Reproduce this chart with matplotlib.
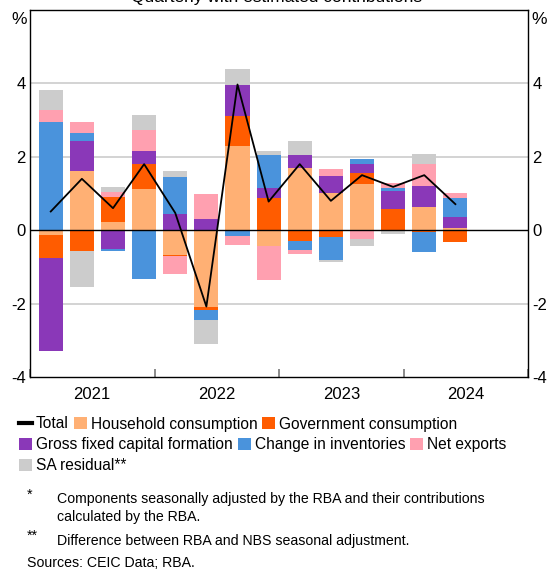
import matplotlib
matplotlib.use('Agg')
import matplotlib.pyplot as plt
from matplotlib.patches import Patch
from matplotlib.lines import Line2D
import numpy as np

plt.rcParams['font.family'] = ['Liberation Sans', 'DejaVu Sans']

# quarterly data, 2021Q1 - 2024Q2 (ppt contributions)
quarters = ['2021Q1', '2021Q2', '2021Q3', '2021Q4',
            '2022Q1', '2022Q2', '2022Q3', '2022Q4',
            '2023Q1', '2023Q2', '2023Q3', '2023Q4',
            '2024Q1', '2024Q2']
household = [-0.12, 1.62, 0.23, 1.11, -0.68, -2.10, 2.29, -0.42, 1.69, 1.00, 1.27, 0.00, 0.64, 0.07]
government = [-0.63, -0.58, 0.68, 0.70, -0.03, -0.07, 0.83, 0.89, -0.29, -0.18, 0.29, 0.58, -0.05, -0.33]
gfcf = [-2.54, 0.81, -0.50, 0.35, 0.45, 0.31, 0.83, 0.26, 0.36, 0.48, 0.25, 0.49, 0.57, 0.30]
inventories = [2.94, 0.22, -0.08, -1.33, 1.00, -0.29, -0.17, 0.90, -0.24, -0.64, 0.13, 0.08, -0.55, 0.51]
net_exports = [0.33, 0.29, 0.13, 0.57, -0.49, 0.68, -0.24, -0.94, -0.11, 0.19, -0.25, 0.13, 0.59, 0.13]
sa_residual = [0.55, -0.97, 0.14, 0.40, 0.16, -0.65, 0.43, 0.11, 0.38, -0.05, -0.19, -0.10, 0.28, 0.00]
total = [0.51, 1.40, 0.60, 1.80, 0.47, -2.08, 3.97, 0.78, 1.80, 0.80, 1.50, 1.18, 1.50, 0.71]

components = [
    ('Household consumption', household, '#FFB074'),
    ('Government consumption', government, '#FF5C00'),
    ('Gross fixed capital formation', gfcf, '#8A38B8'),
    ('Change in inventories', inventories, '#4A93DC'),
    ('Net exports', net_exports, '#FFA0B0'),
    ('SA residual**', sa_residual, '#CCCCCC'),
]

# bar placed at start of last month of each quarter
x = np.array([int(q[:4]) + (3 * int(q[5]) - 1) / 12 for q in quarters])

fig = plt.figure(figsize=(5.47, 5.70), dpi=100)
ax = fig.add_axes([30 / 547, 1 - 377 / 570, 498 / 547, 367 / 570])

pos_base = np.zeros(len(x))
neg_base = np.zeros(len(x))
for label, vals, color in components:
    v = np.array(vals)
    bottom = np.where(v >= 0, pos_base, neg_base)
    ax.bar(x, v, width=0.193, bottom=bottom, color=color, zorder=2, linewidth=0)
    pos_base += np.where(v >= 0, v, 0)
    neg_base += np.where(v < 0, v, 0)

ax.plot(x, total, color='black', lw=1.3, zorder=4)
ax.axhline(0, color='black', lw=1, zorder=3)
for yv in [-2, 2, 4]:
    ax.axhline(yv, color='#D0D0D0', lw=1.3, zorder=1)

ax.set_xlim(2021, 2025)
ax.set_ylim(-4, 6)
ax.set_yticks([-4, -2, 0, 2, 4])
ax.set_yticklabels(['-4', '-2', '0', '2', '4'])
ax.tick_params(axis='y', left=False, right=False, length=0, labelleft=True, labelright=True,
               labelsize=12, pad=3)

ax.set_xticks([2021, 2022, 2023, 2024, 2025])
ax.set_xticklabels([])
ax.set_xticks([2021.5, 2022.5, 2023.5, 2024.5], minor=True)
ax.set_xticklabels(['2021', '2022', '2023', '2024'], minor=True)
ax.tick_params(axis='x', which='major', direction='in', length=6, color='#777777', width=1.2)
ax.tick_params(axis='x', which='minor', length=0, labelsize=12, pad=7)

for s in ax.spines.values():
    s.set_linewidth(1)
    s.set_color('black')

fig.text(11 / 547, 1 - 19 / 570, '%', fontsize=12.5, va='center', ha='left')
fig.text(531 / 547, 1 - 19 / 570, '%', fontsize=12.5, va='center', ha='left')
fig.text(280 / 547, 1 - 2 / 570, 'Quarterly with estimated contributions*', fontsize=12.5,
         ha='center', va='baseline')

# legend rows
patches = {lab: Patch(facecolor=c, edgecolor='none') for lab, _, c in components}
total_h = Line2D([], [], color='black', lw=3)
rows = [
    ([total_h, patches['Household consumption'], patches['Government consumption']],
     ['Total', 'Household consumption', 'Government consumption'], 424),
    ([patches['Gross fixed capital formation'], patches['Change in inventories'], patches['Net exports']],
     ['Gross fixed capital formation', 'Change in inventories', 'Net exports'], 445),
    ([patches['SA residual**']], ['SA residual**'], 466),
]
for hs, ls, yc in rows:
    fig.legend(hs, ls, ncol=len(hs), loc='center left',
               bbox_to_anchor=(19 / 547, 1 - yc / 570), frameon=False,
               fontsize=11.2, handlelength=0.85, handleheight=0.85, handletextpad=0.25,
               columnspacing=0.3, borderpad=0, borderaxespad=0)

fig.text(27 / 547, 1 - 495 / 570, '*', fontsize=10.2, va='center')
fig.text(57 / 547, 1 - 499 / 570, 'Components seasonally adjusted by the RBA and their contributions',
         fontsize=10.2, va='center')
fig.text(57 / 547, 1 - 517 / 570, 'calculated by the RBA.', fontsize=10.2, va='center')
fig.text(27 / 547, 1 - 536 / 570, '**', fontsize=10.2, va='center')
fig.text(57 / 547, 1 - 541 / 570, 'Difference between RBA and NBS seasonal adjustment.',
         fontsize=10.2, va='center')
fig.text(27 / 547, 1 - 563 / 570, 'Sources: CEIC Data; RBA.', fontsize=10.2, va='center')

fig.savefig('out.png', dpi=100)
